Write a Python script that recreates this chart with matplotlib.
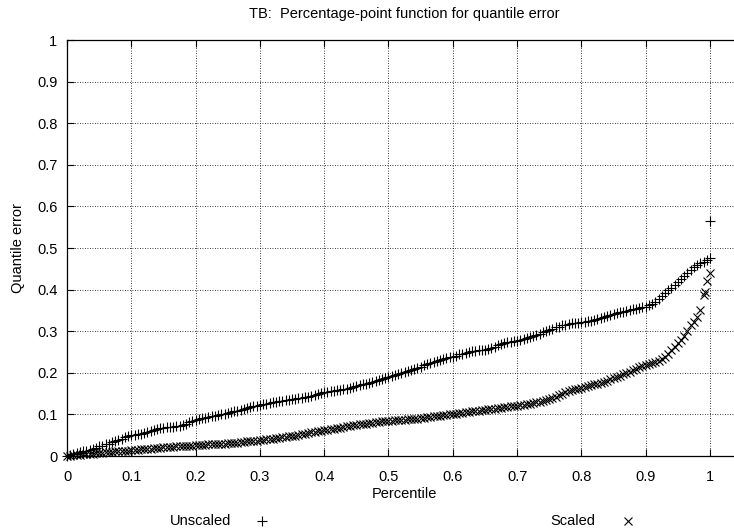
import matplotlib
matplotlib.use("Agg")
import matplotlib.pyplot as plt
from matplotlib.lines import Line2D

plt.rcParams['font.family'] = ['Liberation Sans', 'DejaVu Sans']

title = "TB:  Percentage-point function for quantile error"
x_label = "Percentile"
y_label = "Quantile error"
series_names = ["Unscaled", "Scaled"]

# values read at whole-percent steps
percentile = [
    0.00, 0.01, 0.02, 0.03, 0.04, 0.05, 0.06, 0.07, 0.08, 0.09,
    0.10, 0.11, 0.12, 0.13, 0.14, 0.15, 0.16, 0.17, 0.18, 0.19,
    0.20, 0.21, 0.22, 0.23, 0.24, 0.25, 0.26, 0.27, 0.28, 0.29,
    0.30, 0.31, 0.32, 0.33, 0.34, 0.35, 0.36, 0.37, 0.38, 0.39,
    0.40, 0.41, 0.42, 0.43, 0.44, 0.45, 0.46, 0.47, 0.48, 0.49,
    0.50, 0.51, 0.52, 0.53, 0.54, 0.55, 0.56, 0.57, 0.58, 0.59,
    0.60, 0.61, 0.62, 0.63, 0.64, 0.65, 0.66, 0.67, 0.68, 0.69,
    0.70, 0.71, 0.72, 0.73, 0.74, 0.75, 0.76, 0.77, 0.78, 0.79,
    0.80, 0.81, 0.82, 0.83, 0.84, 0.85, 0.86, 0.87, 0.88, 0.89,
    0.90, 0.91, 0.92, 0.93, 0.94, 0.95, 0.96, 0.97, 0.98, 0.99,
    1.00,
]

unscaled = [
    0.000, 0.005, 0.010, 0.013, 0.018, 0.023, 0.028, 0.033, 0.039, 0.045,
    0.050, 0.052, 0.055, 0.061, 0.065, 0.068, 0.070, 0.071, 0.074, 0.081,
    0.087, 0.091, 0.094, 0.097, 0.100, 0.104, 0.107, 0.111, 0.115, 0.119,
    0.123, 0.126, 0.129, 0.132, 0.134, 0.136, 0.139, 0.142, 0.145, 0.150,
    0.154, 0.156, 0.158, 0.161, 0.164, 0.168, 0.172, 0.176, 0.181, 0.185,
    0.189, 0.195, 0.199, 0.204, 0.209, 0.215, 0.221, 0.227, 0.231, 0.235,
    0.239, 0.244, 0.248, 0.252, 0.254, 0.256, 0.260, 0.266, 0.272, 0.275,
    0.277, 0.281, 0.285, 0.291, 0.297, 0.303, 0.309, 0.314, 0.318, 0.320,
    0.321, 0.324, 0.327, 0.332, 0.337, 0.342, 0.346, 0.349, 0.353, 0.356,
    0.359, 0.366, 0.377, 0.392, 0.405, 0.418, 0.433, 0.448, 0.459, 0.467,
    0.475,
]

scaled = [
    0.000, 0.002, 0.003, 0.005, 0.006, 0.008, 0.009, 0.010, 0.012, 0.013,
    0.014, 0.015, 0.017, 0.018, 0.020, 0.021, 0.022, 0.023, 0.024, 0.025,
    0.026, 0.027, 0.028, 0.029, 0.030, 0.031, 0.032, 0.033, 0.035, 0.036,
    0.038, 0.040, 0.042, 0.044, 0.046, 0.048, 0.051, 0.054, 0.057, 0.060,
    0.062, 0.065, 0.067, 0.070, 0.073, 0.075, 0.077, 0.079, 0.081, 0.083,
    0.085, 0.086, 0.087, 0.088, 0.089, 0.091, 0.093, 0.095, 0.097, 0.099,
    0.101, 0.103, 0.105, 0.107, 0.109, 0.111, 0.113, 0.115, 0.117, 0.119,
    0.121, 0.123, 0.126, 0.129, 0.132, 0.136, 0.143, 0.150, 0.157, 0.160,
    0.163, 0.168, 0.172, 0.176, 0.181, 0.187, 0.193, 0.200, 0.207, 0.213,
    0.219, 0.223, 0.228, 0.237, 0.254, 0.272, 0.288, 0.315, 0.335, 0.387,
    0.439,
]

# values read at the half-percent steps in between
percentile_half = [
    0.005, 0.015, 0.025, 0.035, 0.045, 0.055, 0.065, 0.075, 0.085, 0.095,
    0.105, 0.115, 0.125, 0.135, 0.145, 0.155, 0.165, 0.175, 0.185, 0.195,
    0.205, 0.215, 0.225, 0.235, 0.245, 0.255, 0.265, 0.275, 0.285, 0.295,
    0.305, 0.315, 0.325, 0.335, 0.345, 0.355, 0.365, 0.375, 0.385, 0.395,
    0.405, 0.415, 0.425, 0.435, 0.445, 0.455, 0.465, 0.475, 0.485, 0.495,
    0.505, 0.515, 0.525, 0.535, 0.545, 0.555, 0.565, 0.575, 0.585, 0.595,
    0.605, 0.615, 0.625, 0.635, 0.645, 0.655, 0.665, 0.675, 0.685, 0.695,
    0.705, 0.715, 0.725, 0.735, 0.745, 0.755, 0.765, 0.775, 0.785, 0.795,
    0.805, 0.815, 0.825, 0.835, 0.845, 0.855, 0.865, 0.875, 0.885, 0.895,
    0.905, 0.915, 0.925, 0.935, 0.945, 0.955, 0.965, 0.975, 0.985, 0.995,
]

unscaled_half = [
    0.003, 0.008, 0.011, 0.015, 0.020, 0.025, 0.030, 0.036, 0.042, 0.048,
    0.051, 0.053, 0.058, 0.063, 0.067, 0.069, 0.070, 0.072, 0.077, 0.084,
    0.089, 0.092, 0.095, 0.098, 0.102, 0.105, 0.109, 0.113, 0.117, 0.121,
    0.124, 0.127, 0.130, 0.133, 0.135, 0.137, 0.140, 0.143, 0.147, 0.152,
    0.155, 0.157, 0.159, 0.162, 0.166, 0.170, 0.174, 0.178, 0.183, 0.187,
    0.192, 0.197, 0.201, 0.206, 0.212, 0.218, 0.224, 0.229, 0.233, 0.237,
    0.241, 0.246, 0.250, 0.253, 0.255, 0.258, 0.263, 0.269, 0.274, 0.276,
    0.279, 0.283, 0.288, 0.294, 0.300, 0.306, 0.311, 0.316, 0.319, 0.320,
    0.322, 0.325, 0.330, 0.334, 0.339, 0.344, 0.347, 0.351, 0.354, 0.357,
    0.362, 0.371, 0.384, 0.398, 0.411, 0.425, 0.440, 0.454, 0.463, 0.471,
]

scaled_half = [
    0.001, 0.002, 0.004, 0.005, 0.007, 0.008, 0.009, 0.011, 0.012, 0.013,
    0.014, 0.016, 0.017, 0.019, 0.020, 0.021, 0.022, 0.023, 0.024, 0.025,
    0.026, 0.027, 0.028, 0.029, 0.030, 0.031, 0.032, 0.034, 0.035, 0.037,
    0.039, 0.041, 0.043, 0.045, 0.047, 0.049, 0.052, 0.055, 0.058, 0.061,
    0.063, 0.066, 0.068, 0.071, 0.074, 0.076, 0.078, 0.080, 0.082, 0.084,
    0.085, 0.086, 0.087, 0.088, 0.090, 0.092, 0.094, 0.096, 0.098, 0.100,
    0.102, 0.104, 0.106, 0.108, 0.110, 0.112, 0.114, 0.116, 0.118, 0.120,
    0.122, 0.124, 0.127, 0.130, 0.134, 0.139, 0.146, 0.153, 0.158, 0.161,
    0.165, 0.170, 0.174, 0.178, 0.184, 0.190, 0.196, 0.203, 0.210, 0.216,
    0.221, 0.225, 0.232, 0.245, 0.263, 0.280, 0.300, 0.322, 0.351, 0.421,
]

# extra points in the steep tail / top percentile
unscaled_extra_x = [1.00]
unscaled_extra_y = [0.565]
scaled_extra_x = [0.993]
scaled_extra_y = [0.395]

x_ticks = [0, 0.1, 0.2, 0.3, 0.4, 0.5, 0.6, 0.7, 0.8, 0.9, 1]
x_tick_labels = ["0", "0.1", "0.2", "0.3", "0.4", "0.5", "0.6", "0.7", "0.8", "0.9", "1"]
y_ticks = [0, 0.1, 0.2, 0.3, 0.4, 0.5, 0.6, 0.7, 0.8, 0.9, 1]
y_tick_labels = ["0", "0.1", "0.2", "0.3", "0.4", "0.5", "0.6", "0.7", "0.8", "0.9", "1"]

W, H = 734, 531
fig = plt.figure(figsize=(W / 100, H / 100), dpi=100)

x0_px, x1_px = 67, 710   # pixel of x=0 and x=1
y0_px, y1_px = 456, 40   # pixel of y=0 and y=1
xmax = 1.05
ax_w = (x1_px - x0_px) * xmax / W
ax = fig.add_axes([x0_px / W, (H - y0_px) / H, ax_w, (y0_px - y1_px) / H])

fs = 10.5
ms = 7.0
mew = 0.8
style_u = dict(linestyle='none', marker='+', color='black', markersize=ms,
               markeredgewidth=mew, clip_on=False)
style_s = dict(linestyle='none', marker='x', color='black', markersize=ms * 0.85,
               markeredgewidth=mew, clip_on=False)

ax.plot(percentile, unscaled, **style_u)
ax.plot(percentile_half, unscaled_half, **style_u)
ax.plot(unscaled_extra_x, unscaled_extra_y, **style_u)
ax.plot(percentile, scaled, **style_s)
ax.plot(percentile_half, scaled_half, **style_s)
ax.plot(scaled_extra_x, scaled_extra_y, **style_s)

ax.set_xlim(0, xmax)
ax.set_ylim(0, 1)
ax.set_xticks(x_ticks)
ax.set_xticklabels(x_tick_labels, fontsize=fs)
ax.set_yticks(y_ticks)
ax.set_yticklabels(y_tick_labels, fontsize=fs)
ax.tick_params(axis='x', direction='in', length=5, width=0.8, top=True,
               pad=10, colors='black')
ax.tick_params(axis='y', direction='in', length=5, width=0.8, right=True,
               pad=7, colors='black')
ax.grid(True, linestyle=(0, (1, 2)), linewidth=0.6, color='black')
for s in ax.spines.values():
    s.set_linewidth(0.9)
    s.set_color('black')

cx = (x0_px + (x1_px - x0_px) * xmax / 2) / W
fig.text(cx, 1 - 14 / H, title, fontsize=fs, ha='center', va='center')
fig.text(cx, 1 - 494 / H, x_label, fontsize=fs, ha='center', va='center')
fig.text(18 / W, 1 - 248 / H, y_label, rotation=90, fontsize=fs,
         ha='center', va='center')

# legend at the bottom
fig.text(231 / W, 1 - 521 / H, series_names[0], fontsize=fs, ha='right', va='center')
fig.text(595 / W, 1 - 521 / H, series_names[1], fontsize=fs, ha='right', va='center')
fig.add_artist(Line2D([262 / W], [1 - 521 / H], transform=fig.transFigure,
                      **{k: v for k, v in style_u.items() if k != 'clip_on'}))
fig.add_artist(Line2D([628 / W], [1 - 521 / H], transform=fig.transFigure,
                      **{k: v for k, v in style_s.items() if k != 'clip_on'}))

fig.savefig("out.png", dpi=100)
